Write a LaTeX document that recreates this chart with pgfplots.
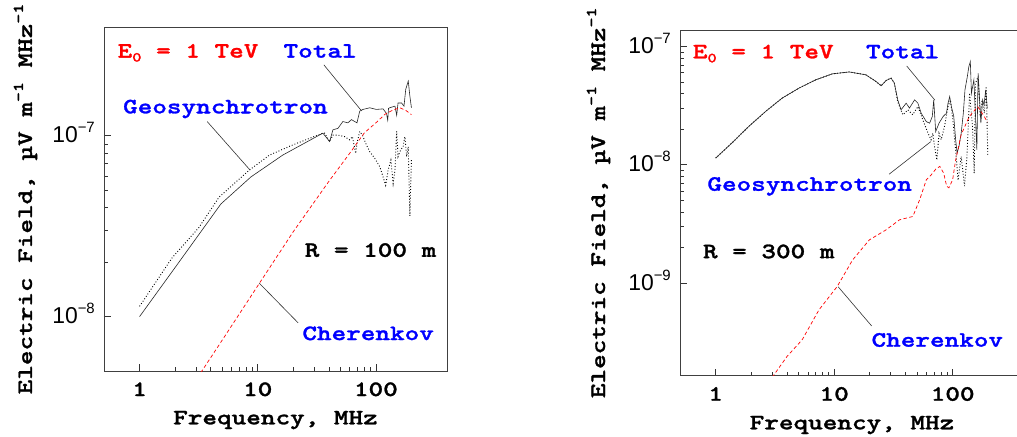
\documentclass[border=0pt]{standalone}
\usepackage{pgfplots}
\pgfplotsset{compat=1.18}
\usepackage{fontspec}
\newfontfamily\cour[FakeStretch=1.27, FakeBold=1.3]{lmmonolt10-bold.otf}
\newfontfamily\arial{Liberation Sans}
\newcommand\cf{\cour\fontsize{22}{26}\selectfont}
\newcommand\mysup[1]{\raisebox{9bp}{\fontsize{15}{16}\selectfont #1}}
\newcommand\ytl[1]{{\arial\fontsize{23}{26}\selectfont 10\raisebox{10bp}{\fontsize{15}{16}\selectfont −#1}}}
\newcommand\Ezero{E\raisebox{-4bp}{\fontsize{14}{16}\selectfont 0} = 1 TeV}

\tikzset{
  solidp/.style={black!85, line width=0.6pt},
  dotp/.style={black, line width=0.9pt, dash pattern=on 0.9pt off 2pt},
  redp/.style={red, line width=0.7pt, dash pattern=on 3.5pt off 2.5pt},
}
\pgfplotsset{
  every axis/.append style={
  scale only axis,
  xmin=0.5, xmax=400,
  axis line style={black!75, line width=0.9pt},
  tick style={black!80, line width=0.7pt},
  major tick length=7bp, minor tick length=4bp,
  tick pos=left, tick align=inside,
  xtick={1,10,100}, xticklabels={1,10,100},
  xticklabel style={font=\cf, anchor=base, yshift=-25bp, inner sep=0pt},
  yticklabel style={anchor=base east, inner sep=0pt, xshift=-9bp, yshift=-7bp},
  xlabel style={font=\cf, at={(axis description cs:0.5,-0.155)}, anchor=base},
  ylabel style={font=\cf, anchor=base},
  },
}

\begin{document}
\begin{tikzpicture}
% ---------------- left panel: R = 100 m ----------------
\begin{loglogaxis}[
  anchor=south west, at={(104bp,66bp)}, width=343bp, height=344bp,
  ymin=5e-9, ymax=4e-7,
  ytick={1e-8,1e-7}, yticklabels={\ytl{8},\ytl{7}},
  xlabel={Frequency, MHz},
  ylabel={Electric Field, µV m\mysup{-1} MHz\mysup{-1}},
  ylabel style={at={(axis description cs:-0.21,0.5)}},
]
% Geosynchrotron (dotted)
\addplot[dotp] coordinates {
(1,1.14e-8)(1.89,2.12e-8)(3.19,3.12e-8)(4.72,4.59e-8)(8.48,6.46e-8)(12.6,7.83e-8)
(19.8,8.91e-8)(35.6,1.035e-7)(36.8,1.035e-7)(40.6,0.93e-7)(43.3,1.01e-7)(47.7,1.01e-7)
(54.4,0.99e-7)(60,0.95e-7)(63.3,0.99e-7)(67.5,0.80e-7)(69.2,0.91e-7)(73,1.057e-7)
(76.9,1.01e-7)(82,0.91e-7)(88.7,0.817e-7)(97.9,0.75e-7)(108,0.674e-7)(115,0.593e-7)
(121,0.533e-7)(127,0.646e-7)(134,0.735e-7)(140,0.545e-7)(145,0.646e-7)(150,1.057e-7)
(154,0.767e-7)(162,0.835e-7)(170,0.871e-7)(176,0.99e-7)(182,0.767e-7)(188,0.871e-7)
(194,0.36e-7)(200,0.735e-7)
};
% Total (solid)
\addplot[solidp] coordinates {
(1,1.0e-8)(2,1.87e-8)(4.88,4.2e-8)(8.77,5.93e-8)(16.3,7.83e-8)(35.6,1.035e-7)
(40.6,0.93e-7)(43.3,1.08e-7)(47.7,1.10e-7)(52.6,1.20e-7)(58,1.18e-7)(62.1,1.23e-7)
(69.2,1.18e-7)(73,1.37e-7)(77.8,1.40e-7)(88.7,1.43e-7)(101,1.40e-7)(115,1.41e-7)
(123,1.33e-7)(126,1.22e-7)(128,1.42e-7)(131,1.43e-7)(145,1.46e-7)(150,1.30e-7)
(154,1.52e-7)(165,1.52e-7)(173,1.46e-7)(179,1.81e-7)(188,2.01e-7)(194,1.66e-7)(200,1.43e-7)
};
% Cherenkov (red dashed)
\addplot[redp] coordinates {
(3.3,4.9e-9)(5,7.4e-9)(10,1.48e-8)(20,2.95e-8)(40,5.6e-8)(60,8.0e-8)(80,1.04e-7)
(100,1.18e-7)(120,1.32e-7)(140,1.39e-7)(160,1.43e-7)(180,1.38e-7)(200,1.31e-7)
};
\node[font=\cf, text=red, anchor=base] at (rel axis cs:0.245,0.911) {\Ezero};
\node[font=\cf, text=blue, anchor=base] at (rel axis cs:0.630,0.911) {Total};
\node[font=\cf, text=blue, anchor=base] at (rel axis cs:0.354,0.749) {Geosynchrotron};
\node[font=\cf, text=black, anchor=base] at (rel axis cs:0.777,0.332) {R = 100 m};
\node[font=\cf, text=blue, anchor=base] at (rel axis cs:0.770,0.090) {Cherenkov};
\draw[black!80, line width=0.6pt] (rel axis cs:0.641,0.890) -- (rel axis cs:0.751,0.756);
\draw[black!80, line width=0.6pt] (rel axis cs:0.301,0.725) -- (rel axis cs:0.426,0.584);
\draw[black!80, line width=0.6pt] (rel axis cs:0.566,0.140) -- (rel axis cs:0.453,0.255);
\end{loglogaxis}

% ---------------- right panel: R = 300 m ----------------
\begin{loglogaxis}[
  anchor=south west, at={(680bp,61.3bp)}, width=344bp, height=345.7bp,
  ymin=1.65e-10, ymax=1.38e-7,
  ytick={1e-9,1e-8,1e-7}, yticklabels={\ytl{9},\ytl{8},\ytl{7}},
  xlabel={Frequency, MHz},
  ylabel={Electric Field, µV m\mysup{-1} MHz\mysup{-1}},
  ylabel style={at={(axis description cs:-0.218,0.5)}},
]
% Geosynchrotron (dotted)
\addplot[dotp] coordinates {
(1,1.14e-8)(1.37,1.53e-8)(1.9,2.11e-8)(2.63,2.82e-8)(3.63,3.66e-8)(5.04,4.45e-8)
(6.98,5.23e-8)(9.66,5.88e-8)(13.4,6.1e-8)(18.5,5.77e-8)(22.6,5.06e-8)(24.9,4.66e-8)
(27.4,5.16e-8)(30.2,5.41e-8)(32.2,4.91e-8)(34.4,3.4e-8)(38,2.65e-8)(41.9,2.92e-8)
(46,2.65e-8)(50.9,3.11e-8)(56,2.4e-8)(62,1.85e-8)(65.7,1.63e-8)(68,1.85e-8)
(70.3,1.43e-8)(73.6,1.1e-8)(76.7,1.85e-8)(80,1.63e-8)(85.3,2.11e-8)(91.4,3.11e-8)
(95.7,3.54e-8)(99.7,2.56e-8)(106,1.34e-8)(111,7.4e-9)(118,1.18e-8)(126,6.6e-9)
(132,1.18e-8)(139,4.04e-8)(147,2.11e-8)(152,8.5e-9)(156,4.91e-8)(164,5.58e-8)
(171,2.56e-8)(177,3.54e-8)(185,2.73e-8)(192,4.6e-8)(198,1.2e-8)
};
% Total (solid)
\addplot[solidp] coordinates {
(1,1.14e-8)(1.37,1.53e-8)(1.9,2.11e-8)(2.63,2.82e-8)(3.63,3.66e-8)(5.04,4.45e-8)
(6.98,5.23e-8)(9.66,5.88e-8)(13.4,6.1e-8)(18.5,5.77e-8)(22.6,5.06e-8)(24.9,4.66e-8)
(27.4,5.16e-8)(30.2,5.41e-8)(32.2,4.91e-8)(34.4,3.54e-8)(36.7,2.92e-8)(40.5,3.32e-8)
(43.2,3.02e-8)(47.7,3.54e-8)(50.9,3.32e-8)(54.3,2.73e-8)(59.9,2.32e-8)(63.9,2.25e-8)
(67.3,2.56e-8)(69.2,3.54e-8)(71.9,1.91e-8)(76.7,2.25e-8)(83,2.56e-8)(88.6,2.73e-8)
(91.4,3.32e-8)(94.4,3.78e-8)(97.5,3.11e-8)(102,2.6e-8)(106,1.63e-8)(109,1.26e-8)
(113,1.43e-8)(118,1.85e-8)(123,2.73e-8)(127,4.3e-8)(133,5.58e-8)(137,6.78e-8)
(141,7.47e-8)(144,4.04e-8)(151,5.23e-8)(156,2.56e-8)(160,1.34e-8)(164,5.96e-8)
(173,2.25e-8)(179,3.54e-8)(184,3.2e-8)(190,4.3e-8)(196,3.0e-8)
};
% Cherenkov (red dashed)
\addplot[redp] coordinates {
(3.0,1.6e-10)(4,2.4e-10)(5.37,3.32e-10)(7.44,5.94e-10)(10.6,9.36e-10)(14.3,1.57e-9)
(19.8,2.32e-9)(27.4,2.82e-9)(35.6,3.43e-9)(46.1,3.66e-9)(52.6,5.06e-9)(59.9,7.47e-9)
(65.7,8.2e-9)(72,9.2e-9)(78,9.7e-9)(84,8.5e-9)(89,6.6e-9)(93,6.4e-9)(100,7.5e-9)
(106,1.1e-8)(118,1.8e-8)(138,2.56e-8)(163,3.1e-8)(185,2.56e-8)(196,2.3e-8)
};
\node[font=\cf, text=red, anchor=base] at (rel axis cs:0.242,0.918) {\Ezero};
\node[font=\cf, text=blue, anchor=base] at (rel axis cs:0.647,0.918) {Total};
\node[font=\cf, text=blue, anchor=base] at (rel axis cs:0.377,0.535) {Geosynchrotron};
\node[font=\cf, text=black, anchor=base] at (rel axis cs:0.258,0.340) {R = 300 m};
\node[font=\cf, text=blue, anchor=base] at (rel axis cs:0.748,0.084) {Cherenkov};
\draw[black!80, line width=0.6pt] (rel axis cs:0.659,0.896) -- (rel axis cs:0.741,0.797);
\draw[black!80, line width=0.6pt] (rel axis cs:0.608,0.583) -- (rel axis cs:0.729,0.677);
\draw[black!80, line width=0.6pt] (rel axis cs:0.557,0.144) -- (rel axis cs:0.460,0.257);
\end{loglogaxis}
\pgfresetboundingbox
\useasboundingbox (0,0) rectangle (1017bp,437bp);
\end{tikzpicture}
\end{document}
